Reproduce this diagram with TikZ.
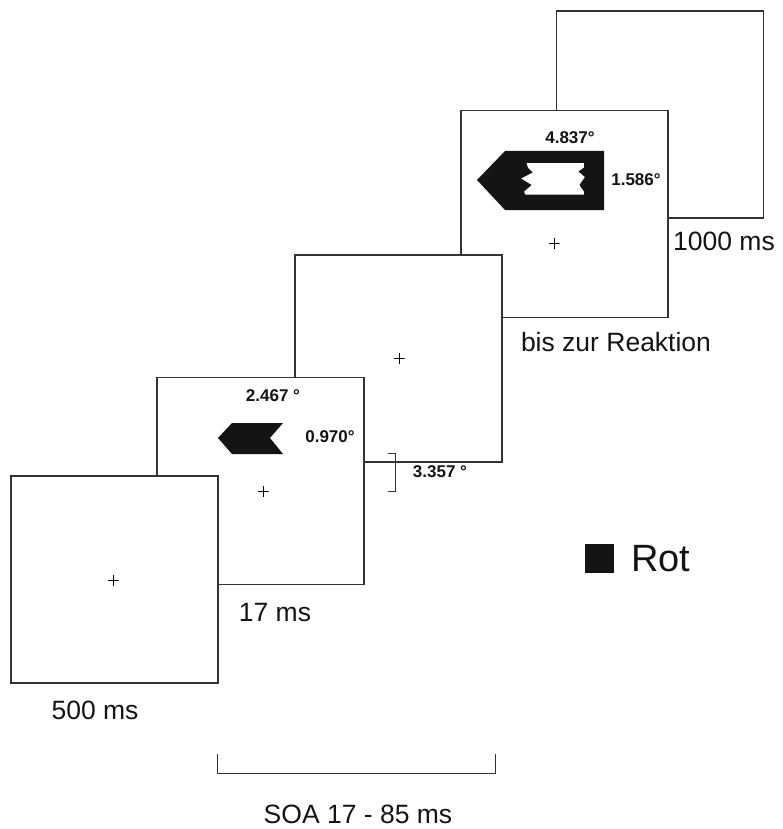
\documentclass[tikz,border=0pt]{standalone}
\usepackage{fontspec}
\setmainfont{Liberation Sans}
\definecolor{framegray}{HTML}{333333}
\definecolor{inkblack}{HTML}{141414}
\begin{document}
\begin{tikzpicture}[x=1pt,y=-1pt,
  frame/.style={draw=framegray,line width=1.2pt,fill=white,minimum width=207pt,minimum height=207pt,inner sep=0pt,outer sep=0pt},
  fixcross/.style={minimum size=11pt,inner sep=0pt,path picture={
     \draw[line width=0.7pt,black] (path picture bounding box.north) -- (path picture bounding box.south);
     \draw[line width=0.7pt,black] (path picture bounding box.west) -- (path picture bounding box.east);}},
  lab/.style={font=\fontsize{26.5}{28}\selectfont,inner sep=0pt,text=inkblack},
  dim/.style={font=\bfseries\fontsize{17}{19}\selectfont,inner sep=0pt,text=inkblack},
  brack/.style={draw=framegray,line width=1pt}]
\useasboundingbox (0,0) rectangle (783,829);
% frames, back to front
\node[frame] (f5) at (660,114.5) {};
\node[frame] (f4) at (564.5,214) {};
\node[frame] (f3) at (398.5,358.5) {};
\node[frame] (f2) at (260.5,481) {};
\node[frame] (f1) at (114.5,579.5) {};
% fixation crosses
\node[fixcross] (c1) at (113,580) {};
\node[fixcross] (c2) at (263,491) {};
\node[fixcross] (c3) at (399,358) {};
\node[fixcross] (c4) at (554,243) {};
% small arrow (prime)
\fill[inkblack] (218,438) -- (232,423) -- (283,423) -- (270,438) -- (283,454) -- (232,454) -- cycle;
% large arrow (target) with inner window
\fill[inkblack,even odd rule] (477,180) -- (505,151) -- (604,151) -- (604,210) -- (505,210) -- cycle
  (526.5,163) -- (584,163) -- (584,167.5) -- (578.5,171.5) -- (585,177) -- (579.5,185) -- (584,191.5) -- (584,194.5)
  -- (525,194.5) -- (524,191.5) -- (531.5,185) -- (521,178.5) -- (532.5,172.5) -- (528,168) -- cycle;
% dimension labels
\node[dim] (d1) at (273,396) {2.467 °};
\node[dim] (d2) at (330,437) {0.970°};
\node[dim] (d3) at (570,138) {4.837°};
\node[dim] (d4) at (636,180) {1.586°};
\node[dim] (d5) at (440,472) {3.357 °};
% bracket for 3.357
\coordinate (b1) at (388,453);
\coordinate (b2) at (395,453);
\coordinate (b3) at (395,491);
\coordinate (b4) at (388,491);
\draw[brack] (b1) -- (b2) -- (b3) -- (b4);
% duration labels
\node[lab] (t1) at (95,710) {500 ms};
\node[lab] (t2) at (275,613) {17 ms};
\node[lab] (t4) at (616,342) {bis zur Reaktion};
\node[lab] (t5) at (724,241) {1000 ms};
% SOA bracket
\coordinate (s1) at (217,754);
\coordinate (s2) at (217,773);
\coordinate (s3) at (495,773);
\coordinate (s4) at (495,754);
\draw[brack] (s1) -- (s2) -- (s3) -- (s4);
\node[lab] (soa) at (358,814) {SOA 17 - 85 ms};
% legend
\node[fill=inkblack,minimum size=29pt,inner sep=0pt] (sq) at (599.5,558.5) {};
\node[font=\fontsize{38}{40}\selectfont,inner sep=0pt,text=inkblack,anchor=west] (rot) at (631,558.5) {Rot};
\end{tikzpicture}
\end{document}
